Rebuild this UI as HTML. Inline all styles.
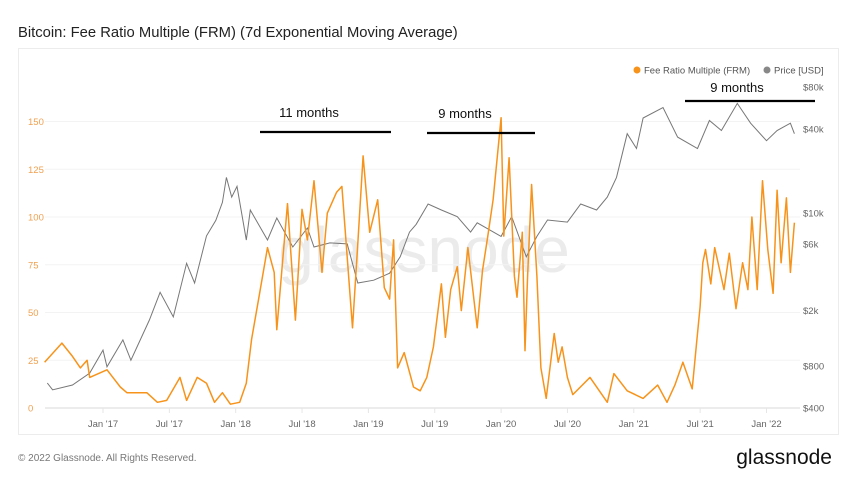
<!DOCTYPE html>
<html><head><meta charset="utf-8">
<style>
body{margin:0;background:#fff;font-family:"Liberation Sans",sans-serif;}
#wrap{position:relative;width:850px;height:478px;overflow:hidden;background:#fff;}
</style></head>
<body>
<div id="wrap">
<svg id="chart" width="850" height="478" viewBox="0 0 850 478">
  <text x="18" y="37" font-size="14.8" fill="#222" font-family="Liberation Sans, sans-serif">Bitcoin: Fee Ratio Multiple (FRM) (7d Exponential Moving Average)</text>
  <rect x="18.5" y="48.5" width="820" height="386" fill="#fff" stroke="#ececec"/>
  <text x="424" y="272" font-size="64" fill="#ebebeb" text-anchor="middle" font-family="Liberation Sans, sans-serif">glassnode</text>
  <g id="grid"></g>
  <g id="axes"></g>
  <g id="series"></g>
  <g>
    <circle cx="637" cy="70" r="3.5" fill="#f7931a"/>
    <text x="644" y="73.5" font-size="9.5" fill="#555">Fee Ratio Multiple (FRM)</text>
    <circle cx="767" cy="70" r="3.5" fill="#888"/>
    <text x="774" y="73.5" font-size="9.5" fill="#555">Price [USD]</text>
  </g>
  <g font-family="Liberation Sans, sans-serif">
    <text x="309" y="117" font-size="13" fill="#111" text-anchor="middle">11 months</text>
    <line x1="260" y1="132" x2="391" y2="132" stroke="#000" stroke-width="2.2"/>
    <text x="465" y="118" font-size="13" fill="#111" text-anchor="middle">9 months</text>
    <line x1="427" y1="133" x2="535" y2="133" stroke="#000" stroke-width="2.2"/>
    <text x="737" y="92" font-size="13" fill="#111" text-anchor="middle">9 months</text>
    <line x1="685" y1="101" x2="815" y2="101" stroke="#000" stroke-width="2.2"/>
  </g>
  <text x="18" y="461" font-size="10" fill="#777">© 2022 Glassnode. All Rights Reserved.</text>
  <text x="832" y="464" font-size="21" fill="#111" text-anchor="end">glassnode</text>
</svg>
</div>
<script>
const frmDates=[2016.56,2016.69,2016.77,2016.83,2016.88,2016.90,2017.03,2017.13,2017.18,2017.33,2017.41,2017.48,2017.58,2017.63,2017.71,2017.78,2017.84,2017.90,2017.96,2018.03,2018.08,2018.12,2018.18,2018.24,2018.29,2018.31,2018.39,2018.45,2018.50,2018.54,2018.59,2018.65,2018.69,2018.76,2018.80,2018.88,2018.92,2018.96,2019.01,2019.07,2019.12,2019.16,2019.19,2019.22,2019.27,2019.34,2019.39,2019.44,2019.49,2019.55,2019.58,2019.62,2019.67,2019.70,2019.75,2019.82,2019.86,2019.90,2019.94,2020.00,2020.02,2020.06,2020.10,2020.12,2020.16,2020.18,2020.20,2020.23,2020.27,2020.30,2020.34,2020.40,2020.43,2020.46,2020.50,2020.54,2020.67,2020.80,2020.85,2020.95,2021.07,2021.18,2021.25,2021.31,2021.37,2021.44,2021.47,2021.50,2021.52,2021.54,2021.58,2021.61,2021.68,2021.72,2021.77,2021.82,2021.86,2021.89,2021.93,2021.97,2022.01,2022.05,2022.08,2022.11,2022.15,2022.18,2022.21];
const frmValues=[24,34,27,21,25,16,20,11,8,8,3,4,16,4,16,13,3,8,2,3,13,36,60,84,71,41,107,46,104,88,119,71,102,113,116,42,86,132,92,109,63,57,88,21,29,11,9,16,32,65,37,62,74,51,84,42,72,90,109,152,90,131,69,58,92,30,69,117,69,21,5,39,24,32,16,7,16,3,18,9,5,12,3,12,24,10,32,53,76,83,65,84,62,81,52,76,62,100,62,119,83,60,114,76,110,71,97];
const priceDates=[2016.58,2016.62,2016.77,2016.90,2017.00,2017.03,2017.15,2017.21,2017.35,2017.43,2017.53,2017.63,2017.69,2017.78,2017.85,2017.90,2017.93,2017.97,2018.01,2018.08,2018.11,2018.24,2018.31,2018.43,2018.54,2018.59,2018.71,2018.84,2018.92,2019.04,2019.16,2019.24,2019.31,2019.36,2019.45,2019.55,2019.67,2019.77,2019.82,2020.00,2020.08,2020.19,2020.27,2020.35,2020.50,2020.60,2020.72,2020.80,2020.87,2020.95,2021.02,2021.07,2021.22,2021.33,2021.48,2021.57,2021.66,2021.78,2021.88,2022.00,2022.08,2022.18,2022.21];
const priceValues=[604,540,585,712,1040,790,1230,880,1710,2700,1800,4360,3150,6850,8850,11900,18000,13000,15500,6400,10500,6400,9200,5700,7800,5700,6100,6000,3150,3300,3700,4850,7300,8300,11600,10500,9400,7300,8500,6800,9400,4850,6800,8900,8600,11600,10500,13000,18000,37000,29000,48000,57000,35000,29000,46000,39000,61000,44000,33000,39000,44000,37000];
const leftTicks=[0,25,50,75,100,125,150];
const rightTicks=[400,800,2000,6000,10000,40000,80000];
const rightTickLabels=["$400","$800","$2k","$6k","$10k","$40k","$80k"];
const xTickDates=[2017,2017.5,2018,2018.5,2019,2019.5,2020,2020.5,2021,2021.5,2022];
const xTickLabels=["Jan '17","Jul '17","Jan '18","Jul '18","Jan '19","Jul '19","Jan '20","Jul '20","Jan '21","Jul '21","Jan '22"];

const NS="http://www.w3.org/2000/svg";
function xScale(t){return 103+(t-2017)*132.7;}
function yLeft(v){return 408-v*1.91;}
function yRight(p){return 408-(Math.log10(p)-Math.log10(400))*139.5;}
function mk(tag,attrs,parent){const e=document.createElementNS(NS,tag);for(const k in attrs)e.setAttribute(k,attrs[k]);parent.appendChild(e);return e;}

const grid=document.getElementById('grid'),axes=document.getElementById('axes'),series=document.getElementById('series');
leftTicks.forEach(v=>{
  const l=mk('line',{x1:45,x2:800,y1:yLeft(v),y2:yLeft(v),stroke:v===0?'#e6e6e6':'#f3f3f3','stroke-width':v===0?1.5:1},grid);
  
  
  const t=mk('text',{x:28,y:yLeft(v)+3.5,'font-size':9.5,fill:'#f0a050','text-anchor':'start'},axes);
  t.textContent=v;
  
  
});
rightTicks.forEach((p,i)=>{
  const t=mk('text',{x:803,y:yRight(p)+3.5,'font-size':9.5,fill:'#666'},axes);
  t.textContent=rightTickLabels[i];
  
  
});
xTickDates.forEach((d,i)=>{
  const x=xScale(d);
  const tk=mk('line',{x1:x,x2:x,y1:408,y2:413,stroke:'#e6e6e6'},axes);
  
  
  const t=mk('text',{x:x,y:427,'font-size':9.5,fill:'#666','text-anchor':'middle'},axes);
  t.textContent=xTickLabels[i];
  
  
});
let pd='';
priceDates.forEach((d,i)=>{pd+=(i?'L':'M')+xScale(d).toFixed(1)+','+yRight(priceValues[i]).toFixed(1);});
const pp=mk('path',{d:pd,fill:'none',stroke:'#777','stroke-width':1},series);


let fd='';
frmDates.forEach((d,i)=>{fd+=(i?'L':'M')+xScale(d).toFixed(1)+','+yLeft(frmValues[i]).toFixed(1);});
const fp=mk('path',{d:fd,fill:'none',stroke:'#f7931a','stroke-width':1.5,'stroke-linejoin':'round'},series);


</script>
</body></html>
